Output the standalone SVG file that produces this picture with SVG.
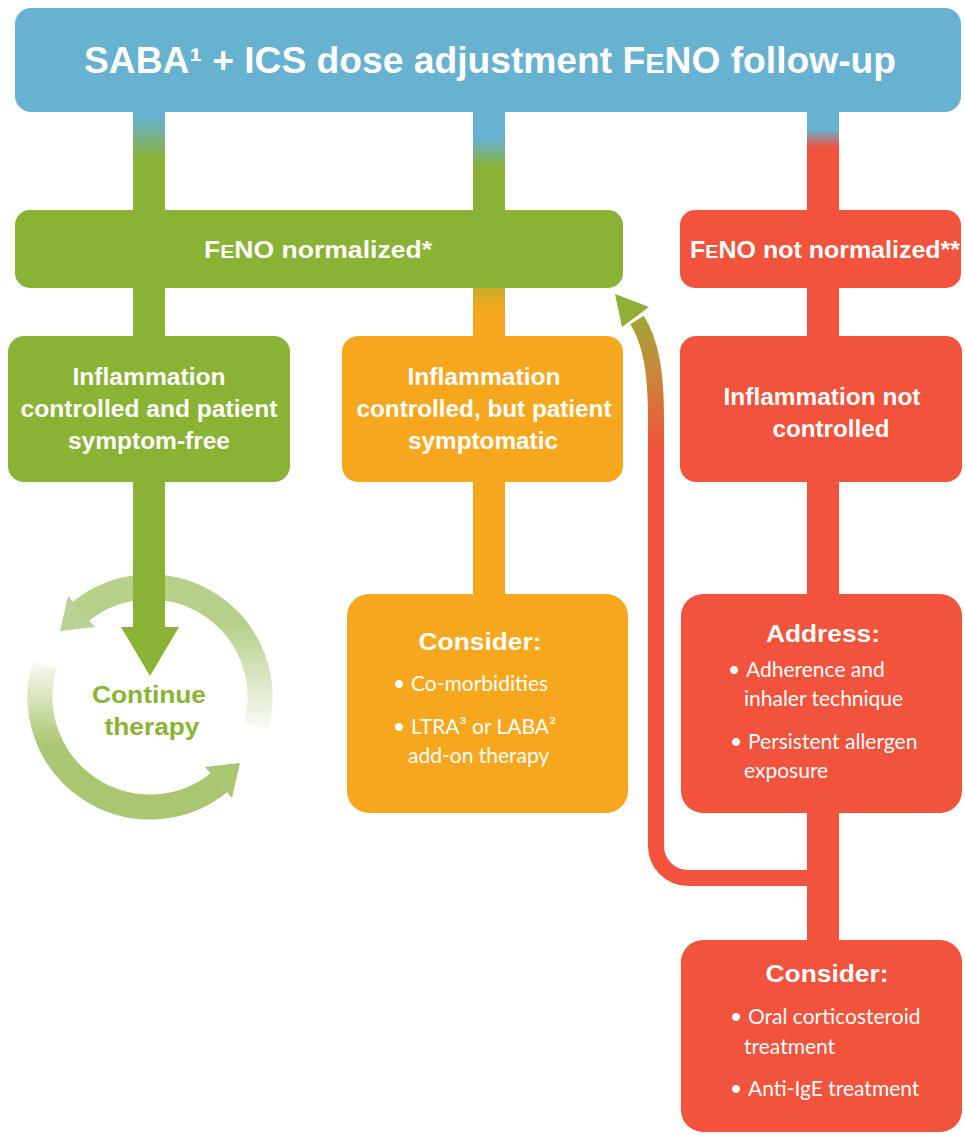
<svg xmlns="http://www.w3.org/2000/svg" width="965" height="1135" viewBox="0 0 965 1135">
<style>
.blue{fill:#67b1d1}
.green{fill:#8ab234}
.orange{fill:#f7a71e}
.red{fill:#f1533c}
.hd{font-family:"Liberation Sans",Arial,sans-serif;font-weight:bold;fill:#fff;text-anchor:middle}
.bl{font-family:Lato,"Open Sans",sans-serif;font-size:21px;fill:#fff}
.ct{font-family:"Liberation Sans",Arial,sans-serif;font-weight:bold;fill:#8ab234;text-anchor:middle;font-size:24px}
</style>
<defs>
<linearGradient id="gStemL" x1="0" y1="112" x2="0" y2="210" gradientUnits="userSpaceOnUse">
<stop offset="0.06" stop-color="#67b1d1"/><stop offset="0.48" stop-color="#8ab234"/></linearGradient>
<linearGradient id="gStemM" x1="0" y1="112" x2="0" y2="210" gradientUnits="userSpaceOnUse">
<stop offset="0.28" stop-color="#67b1d1"/><stop offset="0.56" stop-color="#8ab234"/></linearGradient>
<linearGradient id="gStemR" x1="0" y1="112" x2="0" y2="210" gradientUnits="userSpaceOnUse">
<stop offset="0.18" stop-color="#67b1d1"/><stop offset="0.36" stop-color="#f1533c"/></linearGradient>
<linearGradient id="gStemGO" x1="0" y1="288" x2="0" y2="336" gradientUnits="userSpaceOnUse">
<stop offset="0" stop-color="#c9ab2a"/><stop offset="0.45" stop-color="#f7a71e"/></linearGradient>
<linearGradient id="gRet" x1="0" y1="300" x2="0" y2="450" gradientUnits="userSpaceOnUse">
<stop offset="0" stop-color="#8fb035"/><stop offset="0.45" stop-color="#c68a3a"/><stop offset="1" stop-color="#f1533c"/></linearGradient>
<linearGradient id="gUp" x1="0" y1="625" x2="0" y2="738" gradientUnits="userSpaceOnUse">
<stop offset="0" stop-color="#b6d08a"/><stop offset="1" stop-color="#b6d08a" stop-opacity="0"/></linearGradient>
<linearGradient id="gLo" x1="0" y1="655" x2="0" y2="745" gradientUnits="userSpaceOnUse">
<stop offset="0" stop-color="#a9c670" stop-opacity="0"/><stop offset="1" stop-color="#a9c670"/></linearGradient>
</defs>

<g id="connectors">
<rect x="133" y="110" width="32" height="102" fill="url(#gStemL)"/>
<rect x="473" y="110" width="32" height="102" fill="url(#gStemM)"/>
<rect x="807" y="110" width="32" height="102" fill="url(#gStemR)"/>
<rect class="green" x="133" y="286" width="32" height="52"/>
<rect x="473" y="286" width="32" height="52" fill="url(#gStemGO)"/>
<rect class="red" x="807" y="286" width="32" height="52"/>
<rect class="orange" x="473" y="480" width="32" height="116"/>
<rect class="red" x="807" y="480" width="32" height="462"/>
<path d="M822 878 H688 A32 32 0 0 1 656 846 V420 C656 372 651 342 637 320" fill="none" stroke="url(#gRet)" stroke-width="16"/>
<polygon points="615,294 649,307 622,327" fill="#91ae36"/>
</g>

<g id="cycle">
<path d="M256.3 725.5 A110 110 0 0 0 80.8 611.5" fill="none" stroke="url(#gUp)" stroke-width="25"/>
<polygon points="68,596 60,631 95,627" fill="#bad394"/>
<path d="M44.8 664.8 A110 110 0 0 0 219.2 782.5" fill="none" stroke="url(#gLo)" stroke-width="25"/>
<polygon points="232,798 240,763 205,767" fill="#a9c670"/>
</g>

<g id="arrow-continue">
<rect class="green" x="133" y="480" width="32" height="149"/>
<polygon class="green" points="121,627 179,627 150,676"/>
</g>

<g id="title">
<rect class="blue" x="15" y="8" width="946" height="104" rx="16"/>
<text class="hd" x="490" y="73" font-size="36" textLength="812" lengthAdjust="spacingAndGlyphs">SABA¹ + ICS dose adjustment F<tspan font-size="28">E</tspan>NO follow-up</text>
</g>

<g id="feno-normalized">
<rect class="green" x="15" y="210" width="608" height="78" rx="15"/>
<text class="hd" x="318" y="258" font-size="24" textLength="228" lengthAdjust="spacingAndGlyphs">F<tspan font-size="19">E</tspan>NO normalized*</text>
</g>

<g id="feno-not-normalized">
<rect class="red" x="680" y="210" width="281" height="78" rx="15"/>
<text class="hd" x="825" y="258" font-size="24" textLength="270" lengthAdjust="spacingAndGlyphs">F<tspan font-size="19">E</tspan>NO not normalized**</text>
</g>

<g id="controlled-free">
<rect class="green" x="8" y="336" width="282" height="146" rx="16"/>
<text class="hd" font-size="23"><tspan x="149" y="385" textLength="153" lengthAdjust="spacingAndGlyphs">Inflammation</tspan><tspan x="149" y="417" textLength="257" lengthAdjust="spacingAndGlyphs">controlled and patient</tspan><tspan x="149" y="449" textLength="162" lengthAdjust="spacingAndGlyphs">symptom-free</tspan></text>
</g>

<g id="controlled-symptomatic">
<rect class="orange" x="342" y="336" width="281" height="146" rx="16"/>
<text class="hd" font-size="23"><tspan x="484" y="385" textLength="153" lengthAdjust="spacingAndGlyphs">Inflammation</tspan><tspan x="484" y="417" textLength="255" lengthAdjust="spacingAndGlyphs">controlled, but patient</tspan><tspan x="483" y="449" textLength="150" lengthAdjust="spacingAndGlyphs">symptomatic</tspan></text>
</g>

<g id="not-controlled">
<rect class="red" x="680" y="336" width="282" height="146" rx="16"/>
<text class="hd" font-size="23"><tspan x="822" y="405" textLength="197" lengthAdjust="spacingAndGlyphs">Inflammation not</tspan><tspan x="831" y="437" textLength="117" lengthAdjust="spacingAndGlyphs">controlled</tspan></text>
</g>

<g id="continue-therapy">
<text class="ct"><tspan x="149" y="703" textLength="114" lengthAdjust="spacingAndGlyphs">Continue</tspan><tspan x="152" y="735" textLength="95" lengthAdjust="spacingAndGlyphs">therapy</tspan></text>
</g>

<g id="consider-orange">
<rect class="orange" x="347" y="594" width="281" height="219" rx="22"/>
<text class="hd" x="480" y="650" font-size="24" textLength="123" lengthAdjust="spacingAndGlyphs">Consider:</text>
<text class="bl"><tspan x="393" y="691">•</tspan><tspan x="411" y="691">Co-morbidities</tspan></text>
<text class="bl"><tspan x="393" y="734">•</tspan><tspan x="411" y="734">LTRA³ or LABA²</tspan></text>
<text class="bl" x="408" y="763">add-on therapy</text>
</g>

<g id="address">
<rect class="red" x="681" y="594" width="281" height="219" rx="22"/>
<text class="hd" x="823" y="642" font-size="24" textLength="114" lengthAdjust="spacingAndGlyphs">Address:</text>
<text class="bl"><tspan x="728" y="677">•</tspan><tspan x="746" y="677">Adherence and</tspan></text>
<text class="bl" x="744" y="706">inhaler technique</text>
<text class="bl"><tspan x="730" y="749">•</tspan><tspan x="748" y="749">Persistent allergen</tspan></text>
<text class="bl" x="744" y="778">exposure</text>
</g>

<g id="consider-red">
<rect class="red" x="681" y="940" width="281" height="192" rx="22"/>
<text class="hd" x="827" y="982" font-size="24" textLength="123" lengthAdjust="spacingAndGlyphs">Consider:</text>
<text class="bl"><tspan x="730" y="1024">•</tspan><tspan x="748" y="1024">Oral corticosteroid</tspan></text>
<text class="bl" x="744" y="1054">treatment</text>
<text class="bl"><tspan x="730" y="1096">•</tspan><tspan x="748" y="1096">Anti-IgE treatment</tspan></text>
</g>
</svg>
